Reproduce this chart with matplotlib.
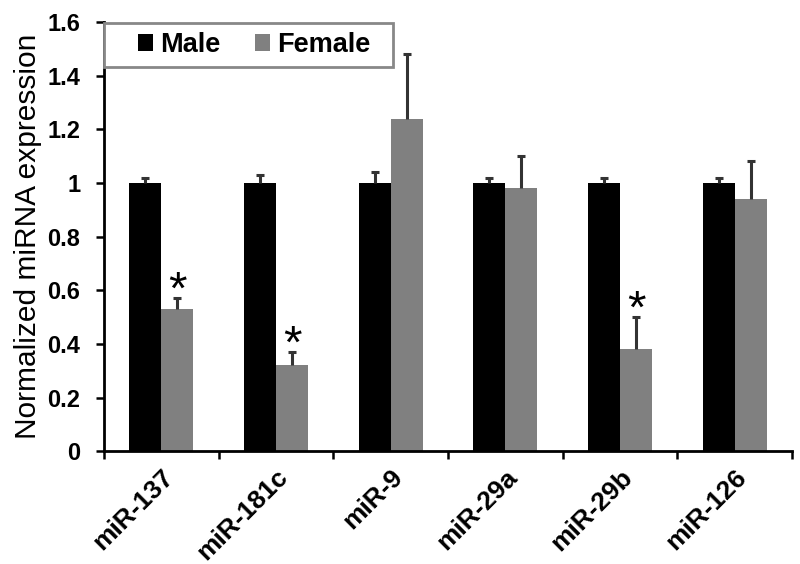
import numpy as np
import matplotlib
matplotlib.use("Agg")
import matplotlib.pyplot as plt
from matplotlib.patches import Rectangle

# values
mirnas = ['miR-137', 'miR-181c', 'miR-9', 'miR-29a', 'miR-29b', 'miR-126']
male = [1.0, 1.0, 1.0, 1.0, 1.0, 1.0]
male_err = [0.02, 0.03, 0.04, 0.02, 0.02, 0.02]
female = [0.53, 0.32, 1.24, 0.98, 0.38, 0.94]
female_err = [0.04, 0.05, 0.24, 0.12, 0.12, 0.14]
signif = [True, True, False, False, True, False]

plt.rcParams['font.family'] = ['Liberation Sans', 'DejaVu Sans']
plt.rcParams['font.weight'] = 'bold'

fig = plt.figure(figsize=(8, 5.64), dpi=100)
ax = fig.add_axes([0.13, 0.2, 0.86, 0.761])

x = np.arange(len(mirnas))
w = 0.28
ax.bar(x - w/2, male, w, color='black', label='Male')
ax.bar(x + w/2, female, w, color='#808080', label='Female')

# upper error bars only, cap at the top
for xs, ys, es in [(x - w/2, male, male_err), (x + w/2, female, female_err)]:
    eb = ax.errorbar(xs, ys, yerr=[np.zeros(len(ys)), es], fmt='none',
                     ecolor='#333333', elinewidth=2.2, capsize=3, capthick=2.2)
    eb.lines[1][0].set_visible(False)

for i, s in enumerate(signif):
    if s:
        ax.text(x[i] + w/2, female[i] + female_err[i] - 0.022, '*', ha='center',
                va='baseline', fontsize=34, fontweight='normal')

ax.set_xlim(-0.5, len(mirnas) - 0.5)
ax.set_ylim(0, 1.6)
ax.set_yticks(np.arange(0, 1.61, 0.2))
ax.set_yticklabels(['0', '0.2', '0.4', '0.6', '0.8', '1', '1.2', '1.4', '1.6'])
ax.set_xticks(x)
ax.set_xticklabels(mirnas, rotation=45, ha='right', rotation_mode='anchor')
ax.set_xticks(np.arange(-0.5, len(mirnas)), minor=True)
ax.tick_params(axis='x', which='major', length=0, labelsize=19, pad=10)
ax.tick_params(axis='x', which='minor', length=6, width=1.8, direction='out')
ax.tick_params(axis='y', labelsize=17, length=6, width=1.8, direction='out', pad=11)
ax.set_ylabel('Normalized miRNA expression', fontsize=21.5, fontweight='normal',
              labelpad=4)

for side in ['top', 'right']:
    ax.spines[side].set_visible(False)
for side in ['left', 'bottom']:
    ax.spines[side].set_linewidth(2)

# legend box drawn separately so its padding can match the original
ax.add_patch(Rectangle((0.0, 0.895), 0.42, 0.103, transform=ax.transAxes,
                       facecolor='white', edgecolor='#888888', linewidth=2,
                       zorder=4, clip_on=False))
leg = ax.legend(loc='center left', bbox_to_anchor=(0.05, 0.946), borderaxespad=0,
                ncol=2, fontsize=19.5, frameon=False,
                handlelength=0.55, handleheight=0.55,
                handletextpad=0.27, columnspacing=1.25, borderpad=0)
leg.set_zorder(5)

fig.savefig('out.png', dpi=100)
